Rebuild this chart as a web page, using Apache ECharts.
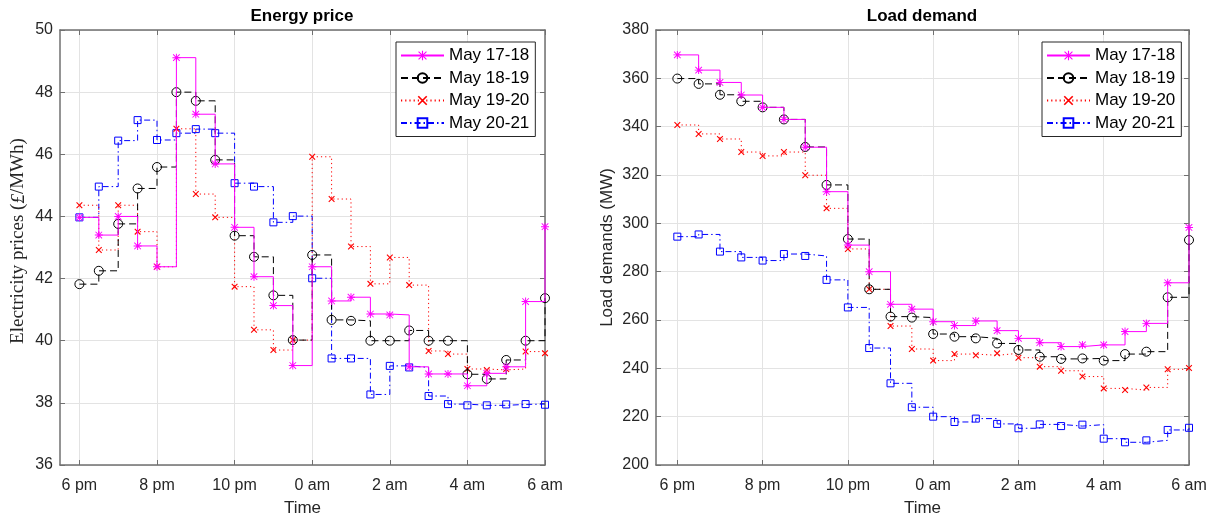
<!DOCTYPE html>
<html>
<head>
<meta charset="utf-8">
<script src="https://cdn.jsdelivr.net/npm/echarts@6/dist/echarts.min.js"></script>
<style>
html,body{margin:0;padding:0;background:#fff;}
#chart{width:1212px;height:517px;}
</style>
</head>
<body>
<div id="chart"></div>
<script>
// Hours after 6 pm (half-hour slots, 6 pm .. 6 am)
const hoursAfter6pm = [0, 0.5, 1, 1.5, 2, 2.5, 3, 3.5, 4, 4.5, 5, 5.5, 6, 6.5, 7, 7.5, 8, 8.5, 9, 9.5, 10, 10.5, 11, 11.5, 12];
const tickHours = [0, 2, 4, 6, 8, 10, 12];
const tickLabels = ['6 pm', '8 pm', '10 pm', '0 am', '2 am', '4 am', '6 am'];
const seriesNames = ['May 17-18', 'May 18-19', 'May 19-20', 'May 20-21'];

// Energy price (£/MWh)
const priceMay1718 = [43.97, 43.40, 44.00, 43.05, 42.38, 49.11, 47.29, 45.69, 43.65, 42.06, 41.13, 39.20, 42.38, 41.28, 41.40, 40.86, 40.83, 39.16, 38.93, 38.93, 38.55, 38.95, 39.16, 41.26, 43.67];
const priceMay1819 = [41.82, 42.25, 43.76, 44.90, 45.59, 48.00, 47.72, 45.82, 43.38, 42.70, 41.46, 40.02, 42.76, 40.67, 40.64, 40.00, 40.00, 40.33, 40.00, 40.00, 38.92, 38.77, 39.38, 40.00, 41.37];
const priceMay1920 = [44.36, 42.92, 44.36, 43.51, 42.38, 46.82, 44.72, 43.97, 41.74, 40.35, 39.70, 40.02, 45.92, 44.56, 43.03, 41.83, 42.68, 41.79, 39.67, 39.57, 39.09, 39.06, 39.09, 39.65, 39.60];
const priceMay2021 = [43.97, 44.96, 46.44, 47.10, 46.46, 46.68, 46.81, 46.68, 45.07, 44.96, 43.81, 44.01, 42.01, 39.43, 39.43, 38.27, 39.19, 39.14, 38.22, 37.96, 37.92, 37.92, 37.95, 37.96, 37.94];

// Load demand (MW)
const loadMay1718 = [369.7, 363.4, 358.3, 353.1, 348.0, 343.0, 331.5, 313.1, 291.0, 280.0, 266.5, 264.5, 259.3, 257.7, 259.6, 255.6, 252.4, 250.6, 249.0, 249.7, 249.7, 255.2, 258.6, 275.4, 298.3];
const loadMay1819 = [359.9, 357.7, 353.2, 350.5, 348.0, 343.0, 331.6, 315.9, 293.5, 272.7, 261.4, 261.0, 254.2, 253.1, 252.4, 250.3, 247.6, 244.8, 243.9, 244.1, 243.2, 245.9, 246.9, 269.4, 293.1];
const loadMay1920 = [340.7, 337.0, 334.9, 329.5, 327.9, 329.5, 319.9, 306.2, 289.4, 272.7, 257.5, 248.0, 243.2, 245.9, 245.4, 246.2, 244.4, 240.7, 239.0, 236.6, 231.7, 231.0, 232.1, 239.6, 240.1];
const loadMay2021 = [294.5, 295.4, 288.3, 285.9, 284.6, 287.3, 286.5, 276.6, 265.2, 248.4, 233.8, 223.9, 220.0, 217.8, 219.2, 217.0, 215.2, 216.8, 216.1, 216.7, 210.9, 209.4, 210.2, 214.5, 215.4];

const starPath = 'path://M4.4,0H5.6V10H4.4Z M0,4.4H10V5.6H0Z M1.3,0.5L9.5,8.7L8.7,9.5L0.5,1.3Z M8.7,0.5L9.5,1.3L1.3,9.5L0.5,8.7Z';
const xPath = 'path://M0,1.2L1.2,0L10,8.8L8.8,10Z M8.8,0L10,1.2L1.2,10L0,8.8Z';

const styles = [
  {color: '#ff00ff', type: 'solid', symbol: starPath, size: 8, filled: true},
  {color: '#000000', type: [7, 4], symbol: 'circle', size: 9, filled: false},
  {color: '#ff0000', type: [1.2, 3], symbol: xPath, size: 6.5, filled: true},
  {color: '#0000ff', type: [6, 3, 1.5, 3], symbol: 'rect', size: 7, filled: false}
];

function pairs(ys) { return hoursAfter6pm.map((h, i) => [h, ys[i]]); }

function makeSeries(idx, data, gridIdx) {
  const s = styles[idx];
  return {
    name: seriesNames[idx],
    type: 'line',
    step: 'end',
    xAxisIndex: gridIdx * 2,
    yAxisIndex: gridIdx * 2,
    data: pairs(data),
    symbol: s.symbol,
    symbolSize: s.size,
    showSymbol: true,
    lineStyle: {color: s.color, width: 1, type: s.type},
    itemStyle: s.filled
      ? {color: s.color, borderWidth: 0}
      : {color: 'rgba(0,0,0,0)', borderColor: s.color, borderWidth: 1},
    emphasis: {disabled: true},
    z: 3 + (3 - idx)
  };
}

const axisCol = '#707070';
const textCol = '#262626';
const font = 'Liberation Sans, Arial, sans-serif';

function xAxes(gridIdx) {
  const base = {
    type: 'value', gridIndex: gridIdx, min: -0.5, max: 12,
    axisLine: {show: true, onZero: false, lineStyle: {color: axisCol, width: 1.5}},
    axisTick: {show: true, inside: true, length: 5, customValues: tickHours, lineStyle: {color: axisCol, width: 1}}
  };
  return [
    Object.assign({}, base, {
      position: 'bottom',
      name: 'Time', nameLocation: 'middle', nameGap: 35,
      nameTextStyle: {color: textCol, fontSize: 17, fontFamily: font},
      axisLabel: {show: true, customValues: tickHours, margin: 13, color: textCol, fontSize: 16, fontFamily: font,
        formatter: v => tickLabels[tickHours.indexOf(v)]},
      splitLine: {show: true, lineStyle: {color: '#e3e3e3', width: 1}}
    }),
    Object.assign({}, base, {
      position: 'top',
      axisLabel: {show: false},
      splitLine: {show: false}
    })
  ];
}

function yAxes(gridIdx, min, max, interval, nameCfg) {
  const base = {
    type: 'value', gridIndex: gridIdx, min: min, max: max, interval: interval,
    axisLine: {show: true, onZero: false, lineStyle: {color: axisCol, width: 1.5}},
    axisTick: {show: true, inside: true, length: 5, lineStyle: {color: axisCol, width: 1}}
  };
  return [
    Object.assign({}, base, {
      position: 'left',
      axisLabel: {show: true, margin: 7, color: textCol, fontSize: 16, fontFamily: font},
      splitLine: {show: true, lineStyle: {color: '#e3e3e3', width: 1}}
    }, nameCfg),
    Object.assign({}, base, {
      position: 'right',
      axisLabel: {show: false},
      splitLine: {show: false}
    })
  ];
}

const legendBase = {
  orient: 'vertical',
  top: 42,
  itemWidth: 43,
  itemHeight: 12,
  itemGap: 5.5,
  padding: [5, 6, 5, 4],
  backgroundColor: '#ffffff',
  borderColor: '#262626',
  borderWidth: 1,
  borderRadius: 0,
  textStyle: {color: '#000', fontSize: 17, fontFamily: font, lineHeight: 17},
  selectedMode: false
};

const chart = echarts.init(document.getElementById('chart'), null, {renderer: 'canvas'});
chart.setOption({
  animation: false,
  backgroundColor: '#ffffff',
  title: [
    {text: 'Energy price', left: 302, top: 8, textAlign: 'center', padding: 0,
      textStyle: {fontSize: 17, fontWeight: 'bold', color: '#000', fontFamily: font}},
    {text: 'Load demand', left: 922, top: 8, textAlign: 'center', padding: 0,
      textStyle: {fontSize: 17, fontWeight: 'bold', color: '#000', fontFamily: font}}
  ],
  grid: [
    {left: 60, top: 30, width: 485, height: 435, containLabel: false, outerBoundsMode: 'none'},
    {left: 656, top: 30, width: 533, height: 435, containLabel: false, outerBoundsMode: 'none'}
  ],
  legend: [
    Object.assign({}, legendBase, {left: 396, data: seriesNames.map(n => n)}),
    Object.assign({}, legendBase, {left: 1042, data: seriesNames.map(n => n)})
  ],
  xAxis: xAxes(0).concat(xAxes(1)),
  yAxis: yAxes(0, 36, 50, 2, {
      name: '{n|Electricity prices (}{i|£}{n|/MWh)}',
      nameLocation: 'middle', nameGap: 32,
      nameTextStyle: {padding: [0, 0, 0, 13],
        rich: {
          n: {fontFamily: 'Liberation Serif, DejaVu Serif, serif', fontSize: 19, color: textCol},
          i: {fontFamily: 'Liberation Serif, DejaVu Serif, serif', fontSize: 19, fontStyle: 'italic', color: textCol}
        }}
    }).concat(yAxes(1, 200, 380, 20, {
      name: 'Load demands (MW)', nameLocation: 'middle', nameGap: 40,
      nameTextStyle: {color: textCol, fontSize: 17, fontFamily: font}
    })),
  series: [
    makeSeries(0, priceMay1718, 0),
    makeSeries(1, priceMay1819, 0),
    makeSeries(2, priceMay1920, 0),
    makeSeries(3, priceMay2021, 0),
    makeSeries(0, loadMay1718, 1),
    makeSeries(1, loadMay1819, 1),
    makeSeries(2, loadMay1920, 1),
    makeSeries(3, loadMay2021, 1)
  ]
});
</script>
</body>
</html>
